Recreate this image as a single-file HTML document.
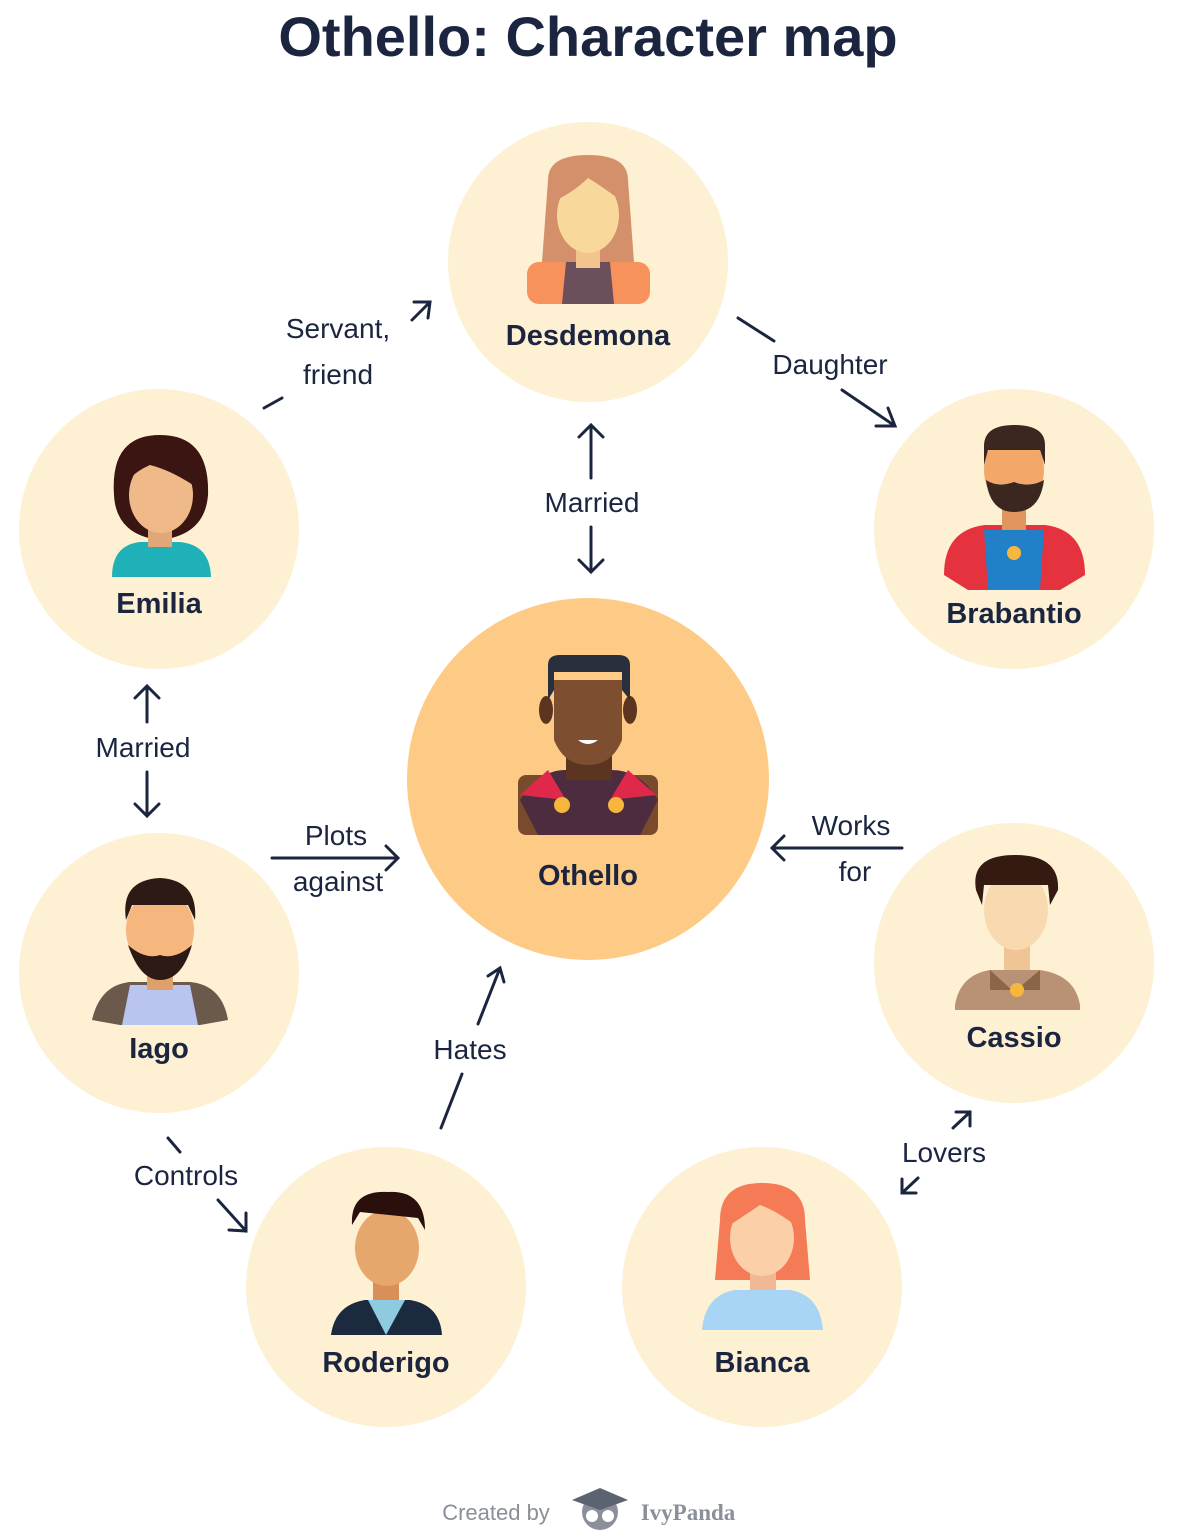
<!DOCTYPE html>
<html><head><meta charset="utf-8"><style>
html,body{margin:0;padding:0;background:#fff;}
svg{display:block}
text{font-family:"Liberation Sans","DejaVu Sans",sans-serif;fill:#1b2540}
.n{font-weight:bold;font-size:29px;text-anchor:middle}
.l{font-size:28px;text-anchor:middle}
.ar{stroke:#1b2540;stroke-width:3;fill:none;stroke-linecap:round}
</style></head><body>
<svg width="1177" height="1536" viewBox="0 0 1177 1536" xmlns="http://www.w3.org/2000/svg">
<text x="588" y="56" text-anchor="middle" style="font-weight:bold;font-size:56px">Othello: Character map</text>

<circle cx="588" cy="262" r="140" fill="#fdf0d3"/>
<circle cx="159" cy="529" r="140" fill="#fdf0d3"/>
<circle cx="1014" cy="529" r="140" fill="#fdf0d3"/>
<circle cx="588" cy="779" r="181" fill="#fdcb85"/>
<circle cx="159" cy="973" r="140" fill="#fdf0d3"/>
<circle cx="1014" cy="963" r="140" fill="#fdf0d3"/>
<circle cx="386" cy="1287" r="140" fill="#fdf0d3"/>
<circle cx="762" cy="1287" r="140" fill="#fdf0d3"/>

<!-- Desdemona -->
<g>
<path d="M548 180 Q548 155 588 155 Q628 155 628 180 L636 290 L540 290 Z" fill="#d4906a"/>
<rect x="527" y="262" width="123" height="42" rx="12" fill="#f8925c"/>
<path d="M566 262 L610 262 L614 304 L562 304 Z" fill="#6b4f5a"/>
<rect x="576" y="240" width="24" height="28" fill="#f2c58e"/>
<ellipse cx="588" cy="215" rx="31" ry="38" fill="#f9d89c"/>
<path d="M557 200 Q560 170 588 172 Q616 170 620 200 Q600 185 588 178 Q576 190 557 200Z" fill="#d4906a"/>
</g>
<text class="n" x="588" y="345">Desdemona</text>

<!-- Emilia -->
<g>
<path d="M114 495 Q110 435 160 435 Q210 435 208 495 Q205 535 160 540 Q116 535 114 495Z" fill="#3a1512"/>
<path d="M112 577 Q112 545 140 542 L180 542 Q210 545 211 577Z" fill="#1fb0b8"/>
<rect x="148" y="525" width="24" height="22" fill="#e0a878"/>
<ellipse cx="161" cy="495" rx="32" ry="38" fill="#f0b98a"/>
<path d="M128 480 Q135 450 165 455 Q185 460 193 485 Q170 470 150 465 Q138 470 128 480Z" fill="#3a1512"/>
</g>
<text class="n" x="159" y="613">Emilia</text>

<!-- Brabantio -->
<g>
<path d="M944 575 Q944 530 985 525 L1045 525 Q1085 530 1085 575 L1060 590 L968 590Z" fill="#e5323f"/>
<path d="M984 530 L1044 530 L1040 590 L988 590Z" fill="#2180c7"/>
<circle cx="1014" cy="553" r="7" fill="#f6b73c"/>
<rect x="1002" y="495" width="24" height="35" fill="#e0955e"/>
<ellipse cx="1014" cy="470" rx="30" ry="38" fill="#f3a869"/>
<path d="M984 445 Q985 425 1014 425 Q1045 425 1045 445 L1045 465 L1040 450 L988 450 L984 465Z" fill="#3b2720"/>
<path d="M986 480 Q990 512 1014 512 Q1040 512 1044 480 Q1030 488 1014 482 Q998 488 986 480Z" fill="#3b2720"/>
</g>
<text class="n" x="1014" y="623">Brabantio</text>

<!-- Othello -->
<g>
<rect x="518" y="775" width="140" height="60" rx="8" fill="#7a4a2c"/>
<path d="M520 800 Q540 770 565 770 L612 770 Q640 770 658 800 L640 835 L538 835Z" fill="#4e2c40"/>
<path d="M520 795 L548 770 L566 800 Z" fill="#e0294a"/>
<path d="M656 795 L628 770 L610 800 Z" fill="#e0294a"/>
<circle cx="562" cy="805" r="8" fill="#f6b73c"/>
<circle cx="616" cy="805" r="8" fill="#f6b73c"/>
<rect x="566" y="745" width="46" height="35" fill="#5c3520"/>
<ellipse cx="546" cy="710" rx="7" ry="14" fill="#5c3520"/>
<ellipse cx="630" cy="710" rx="7" ry="14" fill="#5c3520"/>
<path d="M554 680 L622 680 L622 740 Q612 765 588 765 Q564 765 554 740Z" fill="#7d4f30"/>
<path d="M548 700 L548 665 Q548 655 560 655 L618 655 Q630 655 630 665 L630 700 L622 690 L622 672 L554 672 L554 690Z" fill="#2a2f3d"/>
<path d="M578 740 Q588 748 598 740Z" fill="#fff"/>
</g>
<text class="n" x="588" y="885">Othello</text>

<!-- Iago -->
<g>
<path d="M92 1020 Q100 985 130 982 L190 982 Q222 985 228 1020 L200 1025 L120 1025Z" fill="#6b5a4c"/>
<path d="M122 1025 L130 985 L190 985 L198 1025Z" fill="#b9c4f0"/>
<rect x="147" y="955" width="26" height="35" fill="#e0a06a"/>
<ellipse cx="160" cy="930" rx="34" ry="40" fill="#f5b77e"/>
<path d="M126 920 Q120 880 160 878 Q198 880 195 920 L188 905 L132 905Z" fill="#2e1a14"/>
<path d="M128 945 Q140 980 160 980 Q182 980 192 945 Q175 960 160 955 Q145 960 128 945Z" fill="#2e1a14"/>
</g>
<text class="n" x="159" y="1058">Iago</text>

<!-- Cassio -->
<g>
<path d="M955 1005 Q960 975 990 970 L1040 970 Q1075 975 1080 1005 L1080 1010 L955 1010Z" fill="#b99275"/>
<path d="M990 970 L1014 992 L1040 970 L1040 990 L990 990Z" fill="#8a6548"/>
<circle cx="1017" cy="990" r="7" fill="#f6b73c"/>
<rect x="1004" y="935" width="26" height="35" fill="#f0c596"/>
<ellipse cx="1016" cy="910" rx="32" ry="40" fill="#f9dab0"/>
<path d="M976 890 Q970 855 1015 855 Q1060 855 1058 890 L1050 905 L1048 885 L984 885 L982 905Z" fill="#341a10"/>
</g>
<text class="n" x="1014" y="1047">Cassio</text>

<!-- Roderigo -->
<g>
<path d="M331 1335 Q335 1305 365 1300 L410 1300 Q440 1305 442 1335Z" fill="#1c2a40"/>
<path d="M368 1300 L405 1300 L386 1335Z" fill="#8ecae0"/>
<rect x="373" y="1270" width="26" height="30" fill="#d98f58"/>
<ellipse cx="387" cy="1248" rx="32" ry="38" fill="#e6a76c"/>
<path d="M352 1225 Q350 1190 388 1192 Q425 1190 425 1230 L418 1218 L360 1212Z" fill="#2a0f0c"/>
</g>
<text class="n" x="386" y="1372">Roderigo</text>

<!-- Bianca -->
<g>
<path d="M720 1220 Q720 1183 762 1183 Q805 1183 805 1220 L810 1280 L715 1280Z" fill="#f47b55"/>
<path d="M702 1330 Q705 1295 735 1290 L790 1290 Q820 1295 823 1330Z" fill="#a8d5f5"/>
<rect x="750" y="1260" width="26" height="30" fill="#f0b894"/>
<ellipse cx="762" cy="1238" rx="32" ry="38" fill="#fbcfa8"/>
<path d="M730 1225 Q735 1195 762 1197 Q790 1195 795 1225 Q775 1210 760 1205 Q745 1215 730 1225Z" fill="#f47b55"/>
</g>
<text class="n" x="762" y="1372">Bianca</text>

<!-- connectors -->
<text class="l" x="338" y="338">Servant,</text>
<text class="l" x="338" y="384">friend</text>
<line class="ar" x1="264" y1="408" x2="282" y2="398"/>
<path class="ar" d="M412 320 L430 302 M414 302 L430 302 L428 318"/>

<text class="l" x="830" y="374">Daughter</text>
<line class="ar" x1="738" y1="318" x2="774" y2="341"/>
<path class="ar" d="M842 390 L895 426 M876 426 L895 426 L888 408"/>

<text class="l" x="592" y="512">Married</text>
<path class="ar" d="M591 478 L591 425 M579 437 L591 425 L603 437"/>
<path class="ar" d="M591 527 L591 572 M579 560 L591 572 L603 560"/>

<text class="l" x="143" y="757">Married</text>
<path class="ar" d="M147 722 L147 686 M135 698 L147 686 L159 698"/>
<path class="ar" d="M147 772 L147 816 M135 804 L147 816 L159 804"/>

<text class="l" x="336" y="845">Plots</text>
<text class="l" x="338" y="891">against</text>
<path class="ar" d="M272 858 L398 858 M386 846 L398 858 L386 870"/>

<text class="l" x="851" y="835">Works</text>
<text class="l" x="855" y="881">for</text>
<path class="ar" d="M902 848 L772 848 M784 836 L772 848 L784 860"/>

<text class="l" x="470" y="1059">Hates</text>
<path class="ar" d="M478 1024 L500 968 M488 976 L500 968 L504 982"/>
<line class="ar" x1="462" y1="1074" x2="441" y2="1128"/>

<text class="l" x="186" y="1185">Controls</text>
<line class="ar" x1="168" y1="1138" x2="180" y2="1152"/>
<path class="ar" d="M218 1200 L246 1231 M246 1213 L246 1231 L229 1230"/>

<text class="l" x="944" y="1162">Lovers</text>
<path class="ar" d="M953 1128 L970 1112 M956 1112 L970 1112 L970 1126"/>
<path class="ar" d="M918 1178 L902 1193 M902 1179 L902 1193 L916 1193"/>

<text x="496" y="1520" text-anchor="middle" style="font-size:22px;fill:#8a8f99">Created by</text>
<g>
<circle cx="600" cy="1512" r="18" fill="#8a8f99"/>
<path d="M572 1500 L600 1488 L628 1500 L600 1510Z" fill="#5b6270"/>
<circle cx="592" cy="1516" r="6" fill="#fff"/><circle cx="608" cy="1516" r="6" fill="#fff"/>
</g>
<text x="688" y="1520" text-anchor="middle" style="font-family:'Liberation Serif',serif;font-weight:bold;font-size:23px;fill:#8a8f99">IvyPanda</text>
</svg>
</body></html>
